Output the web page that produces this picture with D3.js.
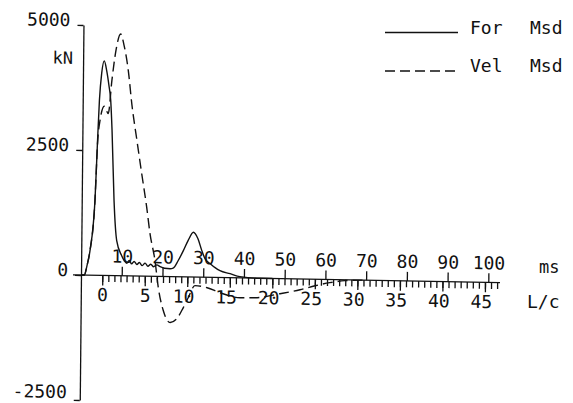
<!DOCTYPE html>
<html lang="en">
<head>
    <meta charset="UTF-8">
    <script src="https://cdn.jsdelivr.net/npm/d3@7"></script>
    <title>Force / Velocity Msd</title>
    <style>
        body { margin: 0; background: #fff; }
        svg { display: block; background: #fff; }
        text { font-family: "DejaVu Sans Mono", monospace; fill: #111; }
        .axis text { font-size: 18px; }
        .axis line, .axis path { stroke: #111; stroke-width: 1.3px; }
    </style>
</head>
<body>
    <div class="chart"></div>

    <script>
        // Data (time in ms, force in kN)
        const forMs = [0, 0.8, 1.45, 2.15, 3.25, 3.7, 4.1, 4.6, 5.2, 5.8, 6.4, 6.87, 7.27, 7.93, 8.68, 9.94,
            10.6, 11.2, 11.8, 12.4, 13.0, 13.7, 14.3, 15.0, 15.7, 16.4, 17.1, 17.8, 18.6, 19.4, 20.5, 21.85,
            22.6, 23.8, 25.07, 26.2, 27.5, 28.6, 29.6, 30.4, 31.7, 32.9, 34.1, 36.6, 39.0, 43.9, 47];
        const forKN = [0, 0, 190, 490, 1495, 2600, 3500, 4050, 4290, 4100, 3800, 3505, 2905, 1500, 700, 400,
            300, 250, 310, 240, 290, 230, 270, 210, 260, 200, 240, 190, 230, 195, 165, 158,
            170, 320, 523, 726, 894, 770, 531, 371, 273, 195, 136, 80, 24, 0, 0];

        const velMs = [0, 0.8, 1.45, 2.15, 3.25, 3.75, 4.3, 5.3, 6.3, 7.12, 8.05, 9.16, 10.0, 11.1, 12.1,
            13.4, 14.65, 15.96, 16.84, 18.13, 19.0, 20.3, 22.0, 23.6, 25.2, 26.4, 28.0, 31.0, 34.2,
            39.1, 42.8, 48.9, 53.8, 57.5, 61.1, 64.8, 70];
        const velKN = [0, 0, 190, 490, 1495, 2650, 3100, 3383, 3238, 3908, 4510, 4833, 4614, 4115, 3413,
            2713, 2053, 1380, 852, 313, -220, -686, -918, -842, -614, -411, -172, -209, -305,
            -397, -393, -303, -217, -130, -64, -18, 0];

        // Axis ticks
        const yTicks = [5000, 2500, 0, -2500];
        const msTicks = [10, 20, 30, 40, 50, 60, 70, 80, 90, 100];
        const lcTicks = [0, 5, 10, 15, 20, 25, 30, 35, 40, 45];
        const lcMinor = d3.range(0, 66).map(i => i * 5 / 7);

        const legendNames = ["For", "Vel"];
        const legendUnit = "Msd";

        const width = 573, height = 403;

        const svg = d3.select(".chart").append("svg")
            .attr("width", width)
            .attr("height", height);

        // scanned plot is slightly skewed
        const plot = svg.append("g")
            .attr("transform", "matrix(1,0.018,-0.0099,1,2.72,-1.46)");

        const y = d3.scaleLinear().domain([-2500, 5000]).range([400, 25]);
        const x = d3.scaleLinear().domain([0, 100]).range([81, 488.3]);
        const lc = d3.scaleLinear().domain([0, 45]).range([102.3, 485]);

        /*--- Y axis ---*/
        const yAxis = plot.append("g")
            .attr("class", "axis")
            .attr("transform", `translate(${x(0)},0)`)
            .call(d3.axisLeft(y).tickValues(yTicks).tickSize(6).tickSizeOuter(0).tickPadding(7)
                .tickFormat(d => String(d)));
        yAxis.selectAll("text").attr("dy", "0.05em");
        yAxis.selectAll(".tick")
            .filter(d => d === -2500)
            .select("text").attr("dy", "-0.12em");

        plot.append("text")
            .attr("x", 71).attr("y", 64)
            .attr("text-anchor", "end")
            .style("font-size", "17px")
            .text("kN");

        /*--- Time axis (ms) and L/c axis ---*/
        const y0 = y(0);
        plot.append("line")
            .attr("x1", 73).attr("x2", 500)
            .attr("y1", y0).attr("y2", y0)
            .attr("stroke", "#111").attr("stroke-width", 1.3);

        const msAxis = plot.append("g")
            .attr("class", "axis")
            .attr("transform", `translate(0,${y0})`)
            .call(d3.axisTop(x).tickValues(msTicks).tickSize(9).tickPadding(4));
        msAxis.select(".domain").remove();

        const lcMinorAxis = plot.append("g")
            .attr("class", "axis")
            .attr("transform", `translate(0,${y0})`)
            .call(d3.axisBottom(lc).tickValues(lcMinor).tickSize(6.5).tickFormat(""));
        lcMinorAxis.select(".domain").remove();

        const lcAxis = plot.append("g")
            .attr("class", "axis")
            .attr("transform", `translate(0,${y0})`)
            .call(d3.axisBottom(lc).tickValues(lcTicks).tickSize(10).tickPadding(3));
        lcAxis.select(".domain").remove();
        lcAxis.selectAll("text").attr("dx", d => d >= 10 ? -4 : 0);

        /*--- Curves ---*/
        const line = d3.line()
            .x(d => x(d[0]))
            .y(d => y(d[1]))
            .curve(d3.curveMonotoneX);

        plot.append("path")
            .datum(d3.zip(forMs, forKN))
            .attr("d", line)
            .attr("fill", "none")
            .attr("stroke", "#111")
            .attr("stroke-width", 1.4);

        plot.append("path")
            .datum(d3.zip(velMs, velKN))
            .attr("d", line)
            .attr("fill", "none")
            .attr("stroke", "#111")
            .attr("stroke-width", 1.4)
            .attr("stroke-dasharray", "10,5");

        /*--- Unit labels ---*/
        svg.append("text").attr("x", 539).attr("y", 273).style("font-size", "17px").text("ms");
        svg.append("text").attr("x", 527).attr("y", 308).style("font-size", "18px").text("L/c");

        /*--- Legend ---*/
        const legend = svg.append("g");
        legendNames.forEach((name, i) => {
            const ly = 32.5 + i * 38.5;
            legend.append("line")
                .attr("x1", 385).attr("x2", i === 0 ? 458 : 455)
                .attr("y1", ly).attr("y2", ly)
                .attr("stroke", "#111").attr("stroke-width", 1.4)
                .attr("stroke-dasharray", i === 0 ? null : "10,5");
            legend.append("text").attr("x", 470).attr("y", ly + 1)
                .style("font-size", "18px").text(name);
            legend.append("text").attr("x", 530).attr("y", ly + 1)
                .style("font-size", "18px").text(legendUnit);
        });
    </script>
</body>
</html>
